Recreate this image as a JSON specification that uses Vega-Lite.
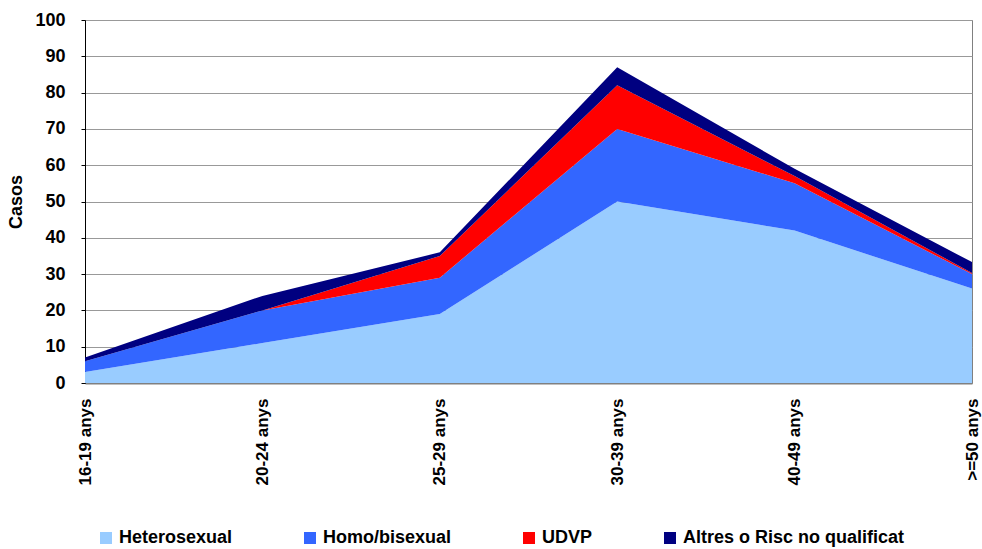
{
  "$schema": "https://vega.github.io/schema/vega-lite/v6.json",
  "width": 887,
  "height": 363,
  "autosize": {"type": "none"},
  "padding": {"left": 85, "top": 20, "right": 10, "bottom": 166},
  "background": "white",
  "config": {
    "view": {"stroke": "#808080", "strokeWidth": 1},
    "font": "Liberation Sans"
  },
  "data": {
    "values": [
      {"age": "16-19 anys", "grup": "Heterosexual", "k": 1, "casos": 3},
      {"age": "20-24 anys", "grup": "Heterosexual", "k": 1, "casos": 11},
      {"age": "25-29 anys", "grup": "Heterosexual", "k": 1, "casos": 19},
      {"age": "30-39 anys", "grup": "Heterosexual", "k": 1, "casos": 50},
      {"age": "40-49 anys", "grup": "Heterosexual", "k": 1, "casos": 42},
      {"age": ">=50 anys", "grup": "Heterosexual", "k": 1, "casos": 26},
      {"age": "16-19 anys", "grup": "Homo/bisexual", "k": 2, "casos": 3},
      {"age": "20-24 anys", "grup": "Homo/bisexual", "k": 2, "casos": 9},
      {"age": "25-29 anys", "grup": "Homo/bisexual", "k": 2, "casos": 10},
      {"age": "30-39 anys", "grup": "Homo/bisexual", "k": 2, "casos": 20},
      {"age": "40-49 anys", "grup": "Homo/bisexual", "k": 2, "casos": 13},
      {"age": ">=50 anys", "grup": "Homo/bisexual", "k": 2, "casos": 4},
      {"age": "16-19 anys", "grup": "UDVP", "k": 3, "casos": 0},
      {"age": "20-24 anys", "grup": "UDVP", "k": 3, "casos": 0},
      {"age": "25-29 anys", "grup": "UDVP", "k": 3, "casos": 6},
      {"age": "30-39 anys", "grup": "UDVP", "k": 3, "casos": 12},
      {"age": "40-49 anys", "grup": "UDVP", "k": 3, "casos": 2},
      {"age": ">=50 anys", "grup": "UDVP", "k": 3, "casos": 0.3},
      {"age": "16-19 anys", "grup": "Altres o Risc no qualificat", "k": 4, "casos": 1},
      {"age": "20-24 anys", "grup": "Altres o Risc no qualificat", "k": 4, "casos": 4},
      {"age": "25-29 anys", "grup": "Altres o Risc no qualificat", "k": 4, "casos": 1},
      {"age": "30-39 anys", "grup": "Altres o Risc no qualificat", "k": 4, "casos": 5},
      {"age": "40-49 anys", "grup": "Altres o Risc no qualificat", "k": 4, "casos": 2},
      {"age": ">=50 anys", "grup": "Altres o Risc no qualificat", "k": 4, "casos": 3}
    ]
  },
  "mark": {"type": "area", "opacity": 1},
  "encoding": {
    "x": {
      "field": "age",
      "type": "ordinal",
      "sort": ["16-19 anys", "20-24 anys", "25-29 anys", "30-39 anys", "40-49 anys", ">=50 anys"],
      "scale": {"type": "point", "padding": 0},
      "axis": {
        "title": null,
        "labelAngle": -90,
        "labelFontSize": 17,
        "labelFontWeight": "bold",
        "labelColor": "black",
        "labelLimit": 0,
        "ticks": false,
        "labelPadding": 15,
        "domainColor": "#808080",
        "domainWidth": 2,
        "grid": false
      }
    },
    "y": {
      "field": "casos",
      "type": "quantitative",
      "stack": "zero",
      "scale": {"domain": [0, 100], "nice": false},
      "axis": {
        "title": "Casos",
        "values": [0, 10, 20, 30, 40, 50, 60, 70, 80, 90, 100],
        "labelFontSize": 18,
        "labelFontWeight": "bold",
        "labelColor": "black",
        "tickSize": 4,
        "tickColor": "black",
        "domainColor": "black",
        "labelPadding": 16,
        "gridColor": "#999999",
        "gridWidth": 1,
        "titleFontSize": 18,
        "titleFontWeight": "bold",
        "titleColor": "black",
        "titlePadding": 9
      }
    },
    "color": {
      "field": "grup",
      "type": "nominal",
      "scale": {
        "domain": ["Heterosexual", "Homo/bisexual", "UDVP", "Altres o Risc no qualificat"],
        "range": ["#99CCFF", "#3366FF", "#FF0000", "#000080"]
      },
      "legend": {
        "title": null,
        "orient": "none",
        "direction": "horizontal",
        "legendX": 12,
        "legendY": 509,
        "symbolType": "square",
        "symbolSize": 144,
        "symbolStrokeWidth": 0,
        "labelFontSize": 18,
        "labelFontWeight": "bold",
        "labelColor": "black",
        "labelLimit": 0,
        "labelOffset": 4,
        "columnPadding": 68
      }
    },
    "order": {"field": "k", "type": "quantitative"}
  }
}
